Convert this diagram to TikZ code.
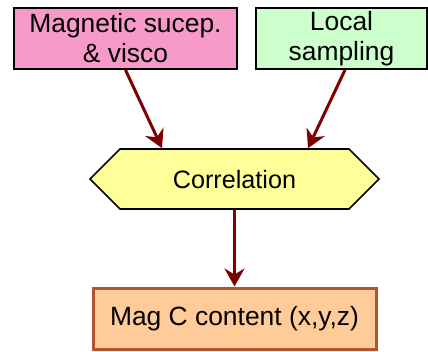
\documentclass[tikz,border=0pt]{standalone}
\usepackage{fontspec}
\setmainfont{Liberation Sans}
\usetikzlibrary{arrows.meta,shapes.symbols}
\definecolor{boxpink}{HTML}{F79AC9}
\definecolor{boxgreen}{HTML}{CCFFCC}
\definecolor{boxyellow}{HTML}{FFFF99}
\definecolor{boxorange}{HTML}{FFCC99}
\definecolor{boxbrown}{HTML}{B0552E}
\definecolor{flowred}{HTML}{800000}
\tikzset{
	flowbox/.style={draw=black, line width=1pt, inner sep=0pt, align=center, font=\fontsize{13.2pt}{15pt}\selectfont},
	flowarrow/.style={draw=flowred, line width=1.5pt, -{Stealth[length=9pt, width=10pt, inset=3pt]}}
}

\begin{document}
\begin{tikzpicture}[x=0.5pt, y=-0.5pt]
		%%%%% START %%%%%
		
		\useasboundingbox (0, 0) rectangle (428, 352);
		
		\node[flowbox, fill=boxpink, minimum width=111.5pt, minimum height=30.5pt] (sucep) at (125.5, 38.5) {Magnetic sucep.\\\& visco};
		\node[flowbox, fill=boxgreen, minimum width=85.5pt, minimum height=30.5pt] (sampling) at (341.5, 38.5) {Local\\sampling};
		
		\node[flowbox, fill=boxyellow, line width=0.8pt, shape=signal, signal to=east and west, signal pointer angle=90, minimum width=144.5pt, minimum height=30pt, font=\fontsize{12.6pt}{15pt}\selectfont] (correlation) at (234.5, 179) {Correlation};
		
		\node[flowbox, fill=boxorange, draw=boxbrown, line width=1.5pt, minimum width=141.5pt, minimum height=30.5pt] (magc) at (234.5, 318.5) {Mag C content (x,y,z)};
		
		\draw[flowarrow] (sucep.south) -- ([xshift=-36.25pt]correlation.north);
		\draw[flowarrow] ([xshift=1.75pt]sampling.south) -- ([xshift=36.75pt]correlation.north);
		\draw[flowarrow] (correlation.south) -- (magc.north);
		
		%%%%% END %%%%%
	\end{tikzpicture}
\end{document}
